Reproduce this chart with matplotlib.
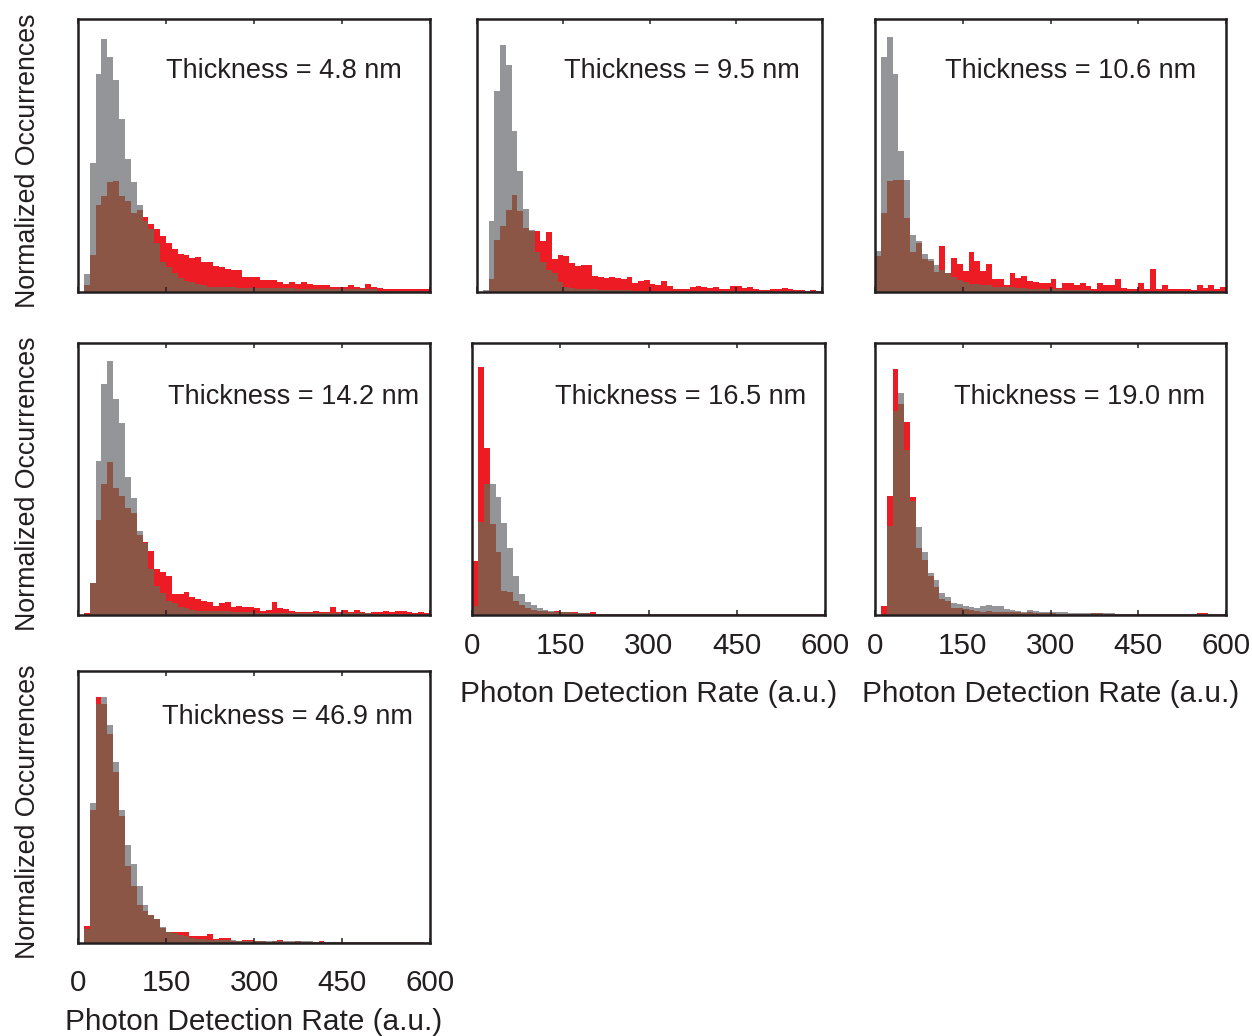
import numpy as np
import matplotlib.pyplot as plt

plt.rcParams['font.family'] = ['Liberation Sans', 'DejaVu Sans']

# histogram bins (photon detection rate, a.u.)
bin_edges = np.arange(0, 601, 10)
x_ticks = [0, 150, 300, 450, 600]
thickness = ["4.8", "9.5", "10.6", "14.2", "16.5", "19.0", "46.9"]

# normalized occurrences per bin (gray = reference, red = sample)
gray_48 = [0, 6.7, 47.3, 80, 92.5, 86, 77.5, 63.5, 48.8, 40.3,
           31.7, 26, 23, 18, 11, 9, 7, 5, 4, 3.5,
           3, 2.5, 2, 2, 2, 2, 2, 1.5, 1.5, 1.5,
           1.5, 1.5, 1.5, 1.5, 1.5, 1.5, 1.5, 1, 1, 1,
           1, 1, 1, 1, 1, 1, 1, 1, 1, 1,
           1, 0.5, 0.5, 0.5, 0.5, 0.5, 0.5, 0.5, 0.5, 0.5]
red_48 = [0, 2.4, 13.4, 31.7, 35, 40.3, 40.5, 35, 33.5, 29,
          30, 27.5, 25, 23, 20.5, 18, 15.7, 14, 13.5, 12.5,
          13, 11, 11, 9.5, 9, 8.5, 8, 8, 5.5, 5.5,
          5.5, 4.5, 4.5, 4.5, 3.5, 3, 3.5, 3, 3.5, 3,
          2.5, 2.5, 2.5, 2, 2, 2, 2.5, 2, 1.5, 3,
          2, 1.5, 1, 1, 1, 1, 1, 1, 1.2, 1.2]

gray_95 = [0, 0.9, 25.9, 73.5, 90.4, 83.3, 58.9, 44.2, 30.5, 22.7,
           14.7, 11, 8, 7, 3.7, 2, 1.5, 1, 1, 1,
           1, 0.8, 0.8, 0.8, 0.6, 0.6, 0.6, 0.5, 0.5, 0.5,
           0.5, 0.4, 0.4, 0.4, 0.4, 0.4, 0.4, 0.4, 0.4, 0.4,
           0.4, 0.3, 0.3, 0.3, 0.3, 0.3, 0.3, 0.3, 0.3, 0.3,
           0.3, 0.2, 0.2, 0.2, 0.2, 0.2, 0.2, 0.2, 0.2, 0.2]
red_95 = [0, 0, 4.9, 19.2, 24, 30.1, 35.4, 29.5, 23.4, 22.5,
          22.5, 18.8, 22, 12.2, 13.4, 13.1, 10.6, 9.4, 9.8, 10,
          5.9, 5.5, 5.2, 5.4, 5.2, 4.9, 5.5, 3.3, 4.2, 4.5,
          2.8, 2.7, 3.9, 2.2, 1.2, 1.2, 1, 2, 2.2, 1.8,
          1.5, 2, 1, 1, 2.2, 2.2, 1.5, 1.8, 1, 0.9,
          0.6, 1, 1.2, 1.5, 1.2, 0.6, 0.6, 0.4, 0.6, 0.5]

gray_106 = [15.1, 85.9, 93.5, 79.7, 51.7, 41, 20.9, 18.7, 13.9, 12,
            10, 8, 7, 5.5, 4.5, 3.5, 3, 3, 2.5, 2.5,
            2, 2, 2, 1.8, 1.5, 1.5, 1.2, 1.2, 1, 1,
            1, 1, 0.8, 0.8, 0.8, 0.6, 0.6, 0.5, 0.5, 0.5,
            0.5, 0.5, 0.4, 0.4, 0.4, 0.4, 0.3, 0.3, 0.3, 0.3,
            0.3, 0.3, 0.2, 0.2, 0.2, 0.2, 0.2, 0.2, 0.2, 0.1]
red_106 = [13.3, 29, 40.6, 41.2, 41.2, 27, 14.5, 18, 12, 11.5,
           7.5, 17, 7.1, 12.3, 10.2, 7.7, 14.5, 11.4, 7.7, 10.2,
           4.7, 4.7, 2.5, 7.1, 5.3, 5.9, 4.1, 3.7, 3.4, 3.4,
           4.7, 1.6, 3.4, 3.4, 2.5, 3.4, 2.2, 1, 3.4, 2.5,
           2.5, 4.7, 1.6, 1, 1, 3.4, 1.2, 8.4, 1, 2.5,
           1.2, 1, 1, 1, 0.8, 2.5, 1.6, 2.5, 1, 2]

gray_142 = [0, 0, 11.6, 56.6, 84.8, 93.4, 79.5, 70.5, 50.7, 43.1,
            30.9, 26.6, 17, 10.5, 8, 5, 4.3, 3, 2.5, 2,
            1.5, 1.5, 1.5, 1.5, 1.5, 1.5, 1, 1, 1, 1,
            0.8, 0.8, 0.8, 0.8, 0.8, 0.8, 0.8, 0.8, 0.8, 0.8,
            0.6, 0.6, 0.6, 0.6, 0.6, 0.6, 0.6, 0.6, 0.6, 0.6,
            0.4, 0.4, 0.4, 0.4, 0.4, 0.4, 0.4, 0.4, 0.4, 0.4]
red_142 = [0, 0.6, 11.6, 34.9, 48, 56.3, 46.8, 43.7, 39.5, 37.6,
           29.3, 26.8, 23.7, 17, 15.7, 14.3, 7.7, 7.7, 8.6, 6.5,
           5.9, 5.3, 4.7, 3.4, 4.3, 4.9, 2.8, 3.4, 3.1, 2.8,
           2.5, 1.6, 2, 4.7, 2.5, 2.2, 1.6, 1.2, 1.2, 1,
           1.6, 1.2, 1, 3.1, 1.2, 2, 1.2, 2, 1, 0.7,
           1.2, 1.2, 1.6, 1.2, 1.6, 1.6, 1, 0.7, 1, 0.7]

gray_165 = [3.4, 34.2, 48.2, 48, 43.5, 34, 24.5, 14.5, 7.8, 4.7,
            3.5, 2.5, 2, 1.5, 1.2, 1, 1, 0.8, 0.8, 0.6,
            0.5, 0.5, 0.5, 0.5, 0.5, 0.5, 0.5, 0.5, 0.5, 0.5,
            0.4, 0.4, 0.4, 0.4, 0.4, 0.4, 0.4, 0.4, 0.4, 0.4,
            0.3, 0.3, 0.3, 0.3, 0.3, 0.3, 0.3, 0.3, 0.3, 0.3,
            0.2, 0.2, 0.2, 0.2, 0.2, 0.2, 0.2, 0.2, 0.2, 0.2]
red_165 = [19.7, 91, 61.3, 33.6, 23, 9, 8.5, 5.3, 3.5, 2.5,
           2, 1.5, 1.5, 1.2, 1.5, 1.2, 1, 1.2, 0.8, 0.8,
           1.2, 0.5, 0.5, 0.4, 0.4, 0.4, 0.4, 0.3, 0.3, 0.3,
           0.3, 0.3, 0.3, 0.3, 0.5, 0.3, 0.3, 0.3, 0.3, 0.3,
           0.2, 0.2, 0.2, 0.2, 0.2, 0.2, 0.2, 0.2, 0.2, 0.2,
           0.2, 0.2, 0.2, 0.2, 0.2, 0.2, 0.2, 0.2, 0.2, 0.2]

gray_190 = [0, 0, 32.8, 75.1, 81.5, 60.8, 42, 32.5, 23.3, 15.3,
            12.9, 8, 6.5, 4.3, 4.1, 3.4, 3, 2.5, 3.4, 3.7,
            3.4, 3.4, 2.2, 2, 1.6, 1, 2, 1.6, 1.2, 1.2,
            1, 1, 1, 0.8, 0.8, 0.8, 0.8, 0.6, 0.6, 0.6,
            0.6, 0.5, 0.5, 0.5, 0.5, 0.5, 0.5, 0.5, 0.5, 0.5,
            0.5, 0.4, 0.4, 0.4, 0.4, 0.4, 0.4, 0.4, 0.4, 0.4]
red_190 = [0, 3.3, 43.9, 90.4, 77.6, 71, 43.5, 24.5, 20.4, 14.3,
           10.4, 5.9, 5.3, 2.5, 2.5, 2.2, 2, 1.6, 1.2, 1.6,
           1.2, 1.2, 1, 1, 1, 0.8, 1, 0.8, 0.6, 0.6,
           0.6, 0.5, 0.5, 0.5, 0.5, 0.5, 0.5, 0.8, 0.8, 0.5,
           0.5, 0.4, 0.4, 0.4, 0.4, 0.4, 0.4, 0.4, 0.4, 0.4,
           0.4, 0.4, 0.4, 0.4, 0.4, 0.6, 0.6, 0.4, 0.4, 0.3]

gray_469 = [0, 5, 51.6, 88, 90.4, 80, 66.6, 48.8, 35.9, 28.9,
            21.1, 13.8, 10.4, 8.8, 5.8, 4.2, 3.5, 3, 2.5, 2,
            1.5, 1.5, 1.2, 1.2, 1, 1, 1, 0.8, 0.8, 0.8,
            0.6, 0.6, 0.6, 0.6, 0.6, 0.6, 0.6, 0.6, 0.6, 0.6,
            0.4, 0.4, 0.4, 0.4, 0.4, 0.4, 0.4, 0.4, 0.4, 0.4,
            0.3, 0.3, 0.3, 0.3, 0.3, 0.3, 0.3, 0.3, 0.3, 0.3]
red_469 = [0, 6.4, 49, 90.4, 88, 77, 63, 46.7, 28.3, 20.9,
           14.1, 11.7, 10.4, 8.8, 5.5, 4.2, 3.9, 3.9, 3.9, 2.7,
           2.4, 2.4, 3.3, 1.5, 1.7, 2, 0.9, 0.9, 1.2, 1.2,
           0.9, 0.9, 0.5, 0.9, 1.2, 0.5, 0.5, 0.6, 0.5, 0.5,
           0.5, 0.6, 0.3, 0.3, 0.5, 0.5, 0.3, 0.3, 0.3, 0.3,
           0.5, 0.3, 0.3, 0.2, 0.2, 0.2, 0.5, 0.2, 0.2, 0]

grays = [gray_48, gray_95, gray_106, gray_142, gray_165, gray_190, gray_469]
reds = [red_48, red_95, red_106, red_142, red_165, red_190, red_469]

GRAY = '#939598'
RED = '#ED1C24'
OVERLAP = '#8C5646'
INK = '#231F20'

W, H = 1252, 1036
fig = plt.figure(figsize=(W / 100, H / 100), dpi=100)

# pixel boxes (left, top, right, bottom), label position, tick labels, ylabel
layout = [
    ((78, 19, 430, 292), (0.92, 0.81), False, True),
    ((477, 19, 822, 292), (0.936, 0.81), False, False),
    ((875, 19, 1226, 292), (0.914, 0.81), False, False),
    ((78, 343, 430, 615), (0.969, 0.80), False, True),
    ((472, 343, 825, 615), (0.946, 0.80), True, False),
    ((875, 343, 1226, 615), (0.94, 0.80), True, False),
    ((78, 671, 430, 943), (0.952, 0.83), True, True),
]

for i, (box, txt_pos, show_x, show_y) in enumerate(layout):
    l, t, r, b = box
    ax = fig.add_axes([l / W, 1 - b / H, (r - l) / W, (b - t) / H])
    g = np.array(grays[i])
    rd = np.array(reds[i])
    ax.stairs(g, bin_edges, fill=True, color=GRAY, lw=0)
    ax.stairs(rd, bin_edges, fill=True, color=RED, lw=0)
    ax.stairs(np.minimum(g, rd), bin_edges, fill=True, color=OVERLAP, lw=0)

    ax.set_xlim(0, 600)
    ax.set_ylim(0, 100)
    ax.set_yticks([])
    ax.set_xticks(x_ticks)
    pad = 18.5 if i == 6 else 12.5
    ax.tick_params(axis='x', direction='in', top=True, bottom=True,
                   length=3.6, width=1.1, color=INK, labelsize=21.3,
                   labelcolor=INK, pad=pad, labelbottom=show_x)
    for s in ax.spines.values():
        s.set_linewidth(1.8)
        s.set_color(INK)

    ax.text(txt_pos[0], txt_pos[1], f"Thickness = {thickness[i]} nm",
            transform=ax.transAxes, ha='right', va='center',
            fontsize=19.5, color=INK)

    if show_x:
        ax.set_xlabel("Photon Detection Rate (a.u.)", fontsize=21.4,
                      color=INK, va='center')
        ax.xaxis.set_label_coords(0.5, -0.29)
    if show_y:
        ax.set_ylabel("Normalized Occurrences", fontsize=19.3,
                      color=INK, va='center')
        ax.yaxis.set_label_coords(-0.141, 0.482)

fig.savefig("out.png", dpi=100, facecolor='white')
